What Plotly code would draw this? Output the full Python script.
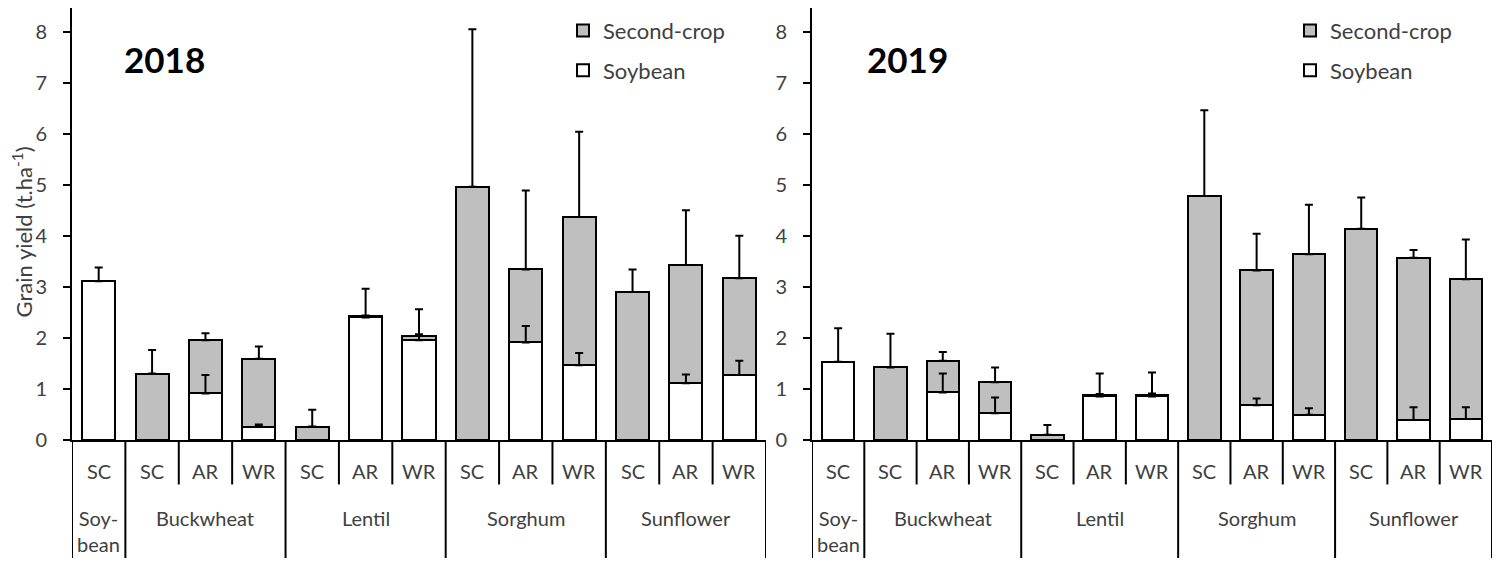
import plotly.graph_objects as go

# ---- data -------------------------------------------------------------
groups = ["Soy-<br>bean", "Buckwheat", "Lentil", "Sorghum", "Sunflower"]
group_sizes = [1, 3, 3, 3, 3]
systems = ["SC", "SC", "AR", "WR", "SC", "AR", "WR", "SC", "AR", "WR", "SC", "AR", "WR"]

soy_2018 = [3.12, None, 0.92, 0.27, None, 2.41, 1.96, None, 1.92, 1.47, None, 1.12, 1.28]
soy_err_2018 = [0.27, None, 0.36, 0.04, None, 0.56, 0.61, None, 0.32, 0.24, None, 0.17, 0.28]
second_2018 = [None, 1.31, 1.04, 1.33, 0.27, 0.02, 0.09, 4.97, 1.43, 2.91, 2.91, 2.32, 1.90]
second_err_2018 = [None, 0.46, 0.14, 0.24, 0.33, 0.02, 0.03, 3.09, 1.55, 1.67, 0.44, 1.07, 0.83]

soy_2019 = [1.54, None, 0.94, 0.53, None, 0.86, 0.86, None, 0.69, 0.50, None, 0.40, 0.42]
soy_err_2019 = [0.66, None, 0.37, 0.31, None, 0.45, 0.47, None, 0.13, 0.13, None, 0.25, 0.23]
second_2019 = [None, 1.43, 0.62, 0.61, 0.11, 0.02, 0.02, 4.79, 2.64, 3.15, 4.15, 3.18, 2.74]
second_err_2019 = [None, 0.66, 0.17, 0.29, 0.19, 0.03, 0.04, 1.68, 0.72, 0.97, 0.61, 0.15, 0.78]

years = ["2018", "2019"]

# ---- styling ----------------------------------------------------------
W, H = 1499, 569
FONT = "Lato"
TXT = "#404040"
GREY = "#bfbfbf"
px_x = lambda p: p / W
px_y = lambda p: (H - p) / H

x_domains = [[px_x(72), px_x(766)], [px_x(812), px_x(1492)]]
y_domain = [px_y(449), px_y(8)]
y_bottom = y_domain[0]

fig = go.Figure()
xs = list(range(len(systems)))

panels = [
    (soy_2018, soy_err_2018, second_2018, second_err_2018),
    (soy_2019, soy_err_2019, second_2019, second_err_2019),
]

for k, (soy, soy_err, sec, sec_err) in enumerate(panels):
    xa = "x" if k == 0 else "x2"
    ya = "y" if k == 0 else "y2"
    lg = "legend" if k == 0 else "legend2"
    totals = [None if s is None else (s + (b or 0)) for s, b in zip(sec, soy)]

    fig.add_trace(go.Bar(
        x=xs, y=soy, name="Soybean", xaxis=xa, yaxis=ya, legend=lg,
        legendgroup=f"soy{k}", legendrank=2, width=0.62,
        marker=dict(color="white", line=dict(color="black", width=2)),
        hoverinfo="skip"))
    fig.add_trace(go.Bar(
        x=xs, y=sec, name="Second-crop", xaxis=xa, yaxis=ya, legend=lg,
        legendgroup=f"sec{k}", legendrank=1, width=0.62,
        marker=dict(color=GREY, line=dict(color="black", width=2)),
        hoverinfo="skip"))

    # error bars (plus direction only), drawn over the bars
    for yv, ev in ((totals, sec_err), (soy, soy_err)):
        fig.add_trace(go.Scatter(
            x=xs, y=yv, mode="markers", xaxis=xa, yaxis=ya, showlegend=False,
            marker=dict(size=1, opacity=0), hoverinfo="skip",
            error_y=dict(type="data", symmetric=False,
                         array=[e if e is not None else 0 for e in ev],
                         arrayminus=[0] * len(ev),
                         color="black", thickness=2, width=4)))

fig.update_layout(barmode="stack")

axis_common = dict(showline=True, linecolor="black", linewidth=2,
                   showgrid=False, zeroline=False)
for k in range(2):
    sx = "" if k == 0 else "2"
    fig.update_layout({
        f"xaxis{sx}": dict(domain=x_domains[k], range=[-0.5, len(systems) - 0.5],
                           showticklabels=False, ticks="", anchor=f"y{sx}",
                           **axis_common),
        f"yaxis{sx}": dict(domain=y_domain, range=[0, 8.48], anchor=f"x{sx}",
                           tickmode="array", tickvals=list(range(9)),
                           ticks="outside", ticklen=7, tickwidth=2, tickcolor="black",
                           ticklabelstandoff=12,
                           tickfont=dict(family=FONT, size=20, color=TXT),
                           **axis_common),
    })

# category separators and labels under each panel
shapes, annotations = [], []
for k in range(2):
    xr = "x" if k == 0 else "x2"
    boundaries = [0]
    for g in group_sizes:
        boundaries.append(boundaries[-1] + g)
    for b in range(len(systems) + 1):
        long_line = b in boundaries
        shapes.append(dict(type="line", xref=xr, yref="paper",
                           x0=b - 0.5, x1=b - 0.5, y0=y_bottom,
                           y1=0 if long_line else px_y(494),
                           line=dict(color="black", width=2)))
    for i, s in enumerate(systems):
        annotations.append(dict(x=i, y=px_y(480), xref=xr, yref="paper", text=s,
                                showarrow=False, yanchor="middle", xanchor="center",
                                font=dict(family=FONT, size=20, color=TXT)))
    for g, (name, size) in enumerate(zip(groups, group_sizes)):
        centre = boundaries[g] + (size - 1) / 2
        annotations.append(dict(x=centre, y=px_y(514), xref=xr, yref="paper",
                                text=name, showarrow=False, yanchor="top",
                                xanchor="center",
                                font=dict(family=FONT, size=20, color=TXT)))
    annotations.append(dict(x=px_x(164 if k == 0 else 907), y=px_y(60), xref="paper",
                            yref="paper", text=f"<b>{years[k]}</b>", showarrow=False,
                            xanchor="center", yanchor="middle",
                            font=dict(family=FONT, size=35, color="black")))

annotations.append(dict(x=px_x(22), y=px_y(237), xref="paper", yref="paper",
                        text="Grain yield (t.ha<sup>-1</sup>)", textangle=-90,
                        showarrow=False, xanchor="center", yanchor="middle",
                        font=dict(family=FONT, size=22, color=TXT)))

legend_common = dict(yref="paper", xref="paper", yanchor="top", xanchor="left",
                     traceorder="grouped", tracegroupgap=8,
                     bgcolor="rgba(0,0,0,0)",
                     font=dict(family=FONT, size=22, color=TXT))

fig.update_layout(
    width=W, height=H,
    margin=dict(l=0, r=0, t=0, b=0),
    paper_bgcolor="white", plot_bgcolor="white",
    shapes=shapes, annotations=annotations,
    legend=dict(x=px_x(563), y=px_y(10), **legend_common),
    legend2=dict(x=px_x(1290), y=px_y(10), **legend_common),
)

fig.write_html("out.html")
